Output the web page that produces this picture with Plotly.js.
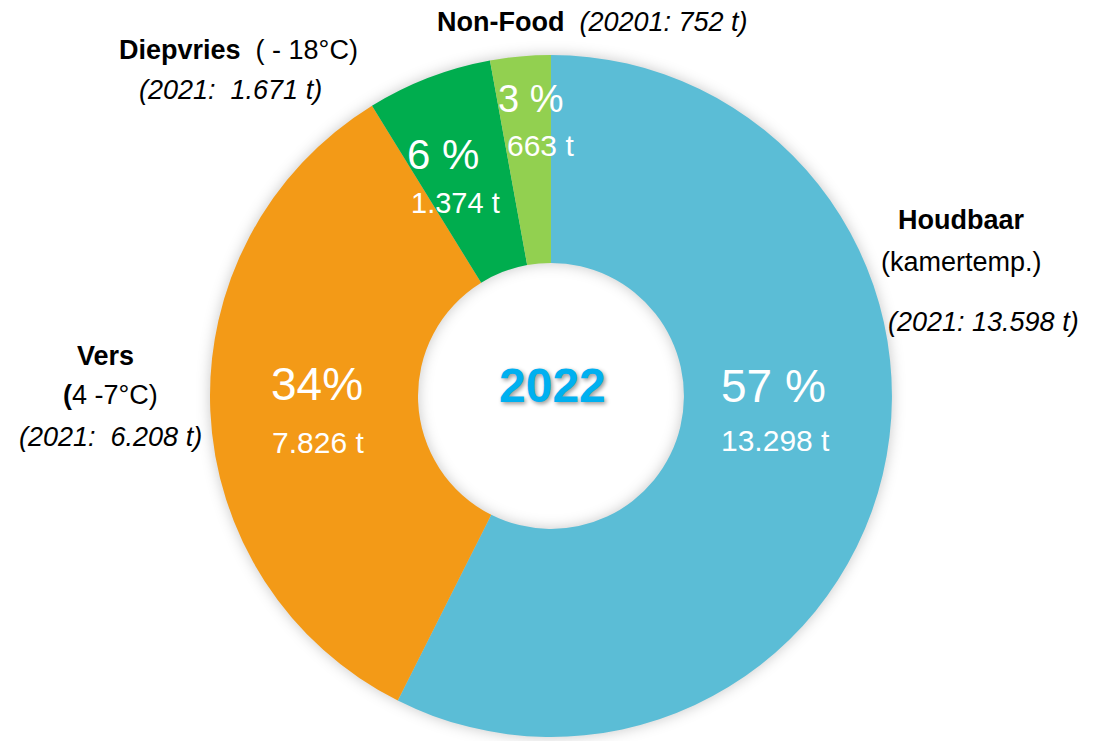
<!DOCTYPE html>
<html>
<head>
<meta charset="utf-8">
<script src="https://cdn.plot.ly/plotly-3.0.1.min.js"></script>
<style>
html,body{margin:0;padding:0;background:#fff;}
#chart{width:1097px;height:741px;}
#chart .pielayer{filter: drop-shadow(0px 0px 7px rgba(0,0,0,0.22));}
</style>
</head>
<body>
<div id="chart"></div>
<script>
// Data
const categories = ["Houdbaar", "Vers", "Diepvries", "Non-Food"];
const tonnes2022 = [13298, 7826, 1374, 663];
const percentLabels = ["57 %", "34%", "6 %", "3 %"];
const tonneLabels = ["13.298 t", "7.826 t", "1.374 t", "663 t"];
const sliceColors = ["#5bbdd6", "#f39a17", "#00ad4e", "#92d050"];
const centerLabel = "2022";

const F = "Liberation Sans, Arial, sans-serif";

const trace = {
  type: "pie",
  labels: categories,
  values: tonnes2022,
  sort: false,
  direction: "clockwise",
  rotation: 0,
  hole: 0.39,
  textinfo: "none",
  hoverinfo: "skip",
  marker: {colors: sliceColors, line: {width: 0}},
  domain: {x: [0.1914, 0.8131], y: [0.0055, 0.9258]},
  showlegend: false
};

function px(x){return x/1097;}
function py(y){return 1 - y/741;}
function ann(x, y, text, size, color, extra){
  return Object.assign({
    xref: "paper", yref: "paper", x: px(x), y: py(y),
    xanchor: "center", yanchor: "middle", showarrow: false,
    text: text, font: {family: F, size: size, color: color}
  }, extra || {});
}

const inPos = [[773, 386, 775, 440], [317, 384, 318, 442], [443, 155, 455, 203], [530, 99, 540, 146]];
const pSizes = [46, 46, 42, 38];
const tSizes = [30, 30, 29, 30];
const annotations = [];
for (let i = 0; i < categories.length; i++) {
  annotations.push(ann(inPos[i][0], inPos[i][1], percentLabels[i], pSizes[i], "#ffffff"));
  annotations.push(ann(inPos[i][2], inPos[i][3], tonneLabels[i], tSizes[i], "#ffffff"));
}
annotations.push(ann(552, 385, "<b>" + centerLabel + "</b>", 48, "#00b0f0",
  {font: {family: F, size: 48, color: "#00b0f0", shadow: "2px 2px 4px rgba(0,0,0,0.4)"}}));

// outer labels
annotations.push(ann(592, 22, "<b>Non-Food</b>  <i>(20201: 752 t)</i>", 27, "#000"));
annotations.push(ann(238, 50, "<b>Diepvries</b>  ( - 18°C)", 27, "#000"));
annotations.push(ann(230, 90, "<i>(2021:  1.671 t)</i>", 27, "#000"));
annotations.push(ann(962, 220, "<b>Houdbaar</b>", 27, "#000"));
annotations.push(ann(962, 262, "(kamertemp.)", 27, "#000"));
annotations.push(ann(983, 322, "<i>(2021: 13.598 t)</i>", 27, "#000"));
annotations.push(ann(105, 356, "<b>Vers</b>", 27, "#000"));
annotations.push(ann(110, 395, "<b>(</b>4 -7°C)", 27, "#000"));
annotations.push(ann(110, 437, "<i>(2021:  6.208 t)</i>", 27, "#000"));

const layout = {
  width: 1097, height: 741,
  margin: {l: 0, r: 0, t: 0, b: 0},
  paper_bgcolor: "#ffffff",
  annotations: annotations
};

Plotly.newPlot("chart", [trace], layout, {displayModeBar: false, staticPlot: true});
</script>
</body>
</html>
